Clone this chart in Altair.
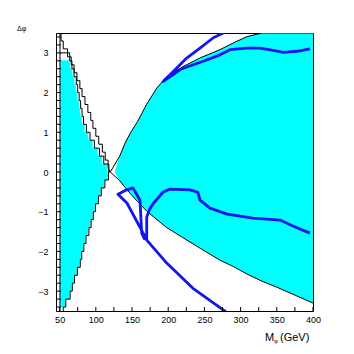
import altair as alt
import pandas as pd

# ---------------- data ----------------
# left cyan region: y-bin centres (bin width 0.2) and right edge in GeV
left_y = [2.7, 2.5, 2.3, 2.1, 1.9, 1.7, 1.5, 1.3, 1.1, 0.9, 0.7, 0.5, 0.3, 0.1,
          -0.1, -0.3, -0.5, -0.7, -0.9, -1.1, -1.3, -1.5, -1.7, -1.9, -2.1, -2.3,
          -2.5, -2.7, -2.9, -3.1, -3.3]
left_x = [64, 67, 70, 72, 74, 76, 78, 80, 84, 89, 95, 102, 108, 115,
          116, 111, 106, 102, 98, 95, 92, 89, 85, 82, 79, 77,
          73, 69, 66, 63, 57]
left_edge = 51.5
half_bin = 0.1

# inner black contour (upper half of left region)
inner_y = [2.9, 2.7, 2.5, 2.3, 2.1, 1.9, 1.7, 1.5, 1.3, 1.1, 0.9, 0.7, 0.5, 0.3, 0.1]
inner_x = [64, 67, 70, 73, 75, 77, 79, 81, 83, 87, 92, 98, 105, 111, 118]

# outer black contour (upper half of left region)
outer_y = [3.4, 3.2, 3.0, 2.8, 2.6, 2.4, 2.2, 2.0, 1.8, 1.6, 1.4, 1.2, 1.0, 0.8, 0.6, 0.4, 0.2]
outer_x = [52, 55, 61, 66, 70, 74, 78, 81, 85, 89, 93, 96, 100, 104, 109, 113, 117]

# black contour, lower half of left region
low_y = [-0.1, -0.3, -0.5, -0.7, -0.9, -1.1, -1.3, -1.5, -1.7, -1.9, -2.1, -2.3,
         -2.5, -2.7, -2.9, -3.1, -3.3, -3.5]
low_x = [117.5, 112.5, 107.5, 103.5, 99.5, 96.5, 93.5, 90.5, 86.5, 83.5, 80.5, 78.5,
         74.5, 70.5, 67.5, 64.5, 58.5, 55]

cross_x, cross_y = 120, 0.0
left_line_x = 50.5

# right cyan region
right_x = [126, 133, 141, 149, 158, 170, 184.5, 198, 220, 245, 271.5, 290, 309, 329.5, 350, 375, 400]
right_up = [0.0, 0.4, 0.75, 1.02, 1.28, 1.70, 2.12, 2.40, 2.65, 2.88, 3.08, 3.25, 3.41, 3.5, 3.5, 3.5, 3.5]
right_lo = [0.0, -0.22, -0.4, -0.57, -0.75, -0.98, -1.2, -1.4, -1.65, -1.93, -2.22, -2.38, -2.57, -2.75, -2.9, -3.1, -3.3]

# blue curves
blue1_x = [281.2, 234.2, 198.3, 170.7, 143, 130.6, 140, 151.4, 161, 163.4, 167, 170.3, 170.3, 174, 179,
           192.8, 202.5, 230, 241, 243.9, 257.7, 281.2, 317.1, 354.4, 372.3, 395.8]
blue1_y = [-3.54, -2.93, -2.30, -1.72, -0.78, -0.56, -0.47, -0.40, -0.71, -1.54, -1.68, -1.70, -1.14, -0.95, -0.80,
           -0.51, -0.43, -0.45, -0.51, -0.71, -0.91, -1.06, -1.16, -1.21, -1.36, -1.54]
blue2_x = [276, 262.3, 243.9, 225.5, 216.3, 202.5, 193, 207, 216.3, 234.7, 248.5, 271.5, 285.3, 308.4,
           326.8, 345.1, 358.9, 377.5, 395.8]
blue2_y = [3.5, 3.38, 3.12, 2.87, 2.70, 2.45, 2.28, 2.45, 2.58, 2.70, 2.79, 2.95, 3.08, 3.12,
           3.12, 3.06, 3.01, 3.04, 3.10]

x_ticks = [50, 75, 100, 125, 150, 175, 200, 225, 250, 275, 300, 325, 350, 375, 400]
x_labels = [50, 100, 150, 200, 250, 300, 350, 400]
y_ticks = [round(-3.4 + 0.2 * i, 1) for i in range(35)]
y_labels = [-3, -2, -1, 0, 1, 2, 3]

# ---------------- tables ----------------
W, H = 257, 278
xs = alt.Scale(domain=[45, 400], nice=False, zero=False)
ys = alt.Scale(domain=[-3.5, 3.5], nice=False, zero=False)

cyan_left = pd.DataFrame({
    "x": [left_edge] * len(left_y), "x2": left_x,
    "y": [v - half_bin for v in left_y], "y2": [v + half_bin for v in left_y]})
cyan_right = pd.DataFrame({"x": right_x, "lo": right_lo, "up": right_up})


def stair(xv, yv):
    pts = []
    for a, b in zip(xv, yv):
        pts.append((a, b + half_bin))
        pts.append((a, b - half_bin))
    return pts


rows = []
c1 = stair(outer_x, outer_y) + [(cross_x, cross_y)] + list(zip(right_x[1:], right_lo[1:]))
c2 = list(reversed(stair(low_x, low_y)))
c2 = c2 + [(cross_x, cross_y)] + list(zip(right_x[1:], right_up[1:]))
c3 = [(left_line_x, inner_y[0] + half_bin)] + stair(inner_x, inner_y) + [(cross_x - 1, 0.0)]
c4 = [(left_line_x, -3.5), (left_line_x, 3.5)]
for gid, c in enumerate([c1, c2, c3, c4]):
    for i, (a, b) in enumerate(c):
        rows.append({"g": gid, "i": i, "x": a, "y": b})
black = pd.DataFrame(rows)

brows = []
for gid, (bx, by) in enumerate([(blue1_x, blue1_y), (blue2_x, blue2_y)]):
    for i, (a, b) in enumerate(zip(bx, by)):
        brows.append({"g": gid, "i": i, "x": a, "y": b})
blue = pd.DataFrame(brows)

# ---------------- layers ----------------
axis_x = alt.Axis(values=x_labels, ticks=False, domain=False, grid=False, title=None,
                  labelFont="Liberation Sans", labelFontSize=9, labelPadding=4,
                  labelColor="black", format="d", labelOverlap=False, labelFlush=False)
axis_y = alt.Axis(values=y_labels, ticks=False, domain=False, grid=False, title=None,
                  labelFont="Liberation Sans", labelFontSize=9, labelPadding=8,
                  labelColor="black", format="d", labelOverlap=False, labelFlush=False)


def X(f):
    return alt.X(f, scale=xs, axis=axis_x)


def Y(f):
    return alt.Y(f, scale=ys, axis=axis_y)


base_left = alt.Chart(cyan_left).mark_rect(color="#00ffff", stroke="#00ffff",
                                           strokeWidth=0.8, clip=True).encode(
    x=X("x:Q"), x2="x2:Q", y=Y("y:Q"), y2="y2:Q")

area_right = alt.Chart(cyan_right).mark_area(color="#00ffff", clip=True).encode(
    x=X("x:Q"), y=Y("lo:Q"), y2="up:Q")

black_lines = alt.Chart(black).mark_line(color="black", strokeWidth=1, clip=True).encode(
    x=X("x:Q"), y=Y("y:Q"), detail="g:N", order="i:Q")

blue_lines = alt.Chart(blue).mark_line(color="#1414f0", strokeWidth=2.8, clip=True,
                                       strokeJoin="round").encode(
    x=X("x:Q"), y=Y("y:Q"), detail="g:N", order="i:Q")

xt = alt.Chart(pd.DataFrame({"t": x_ticks})).mark_rule(color="black", strokeWidth=1).encode(
    x=X("t:Q"), y=alt.value(H), y2=alt.value(H - 4))
yt = alt.Chart(pd.DataFrame({"t": y_ticks})).mark_rule(color="black", strokeWidth=1).encode(
    y=Y("t:Q"), x=alt.value(0), x2=alt.value(5))

title_df = pd.DataFrame({"a": [0]})
t_m = alt.Chart(title_df).mark_text(text="M", font="Liberation Sans", fontSize=11,
                                    align="left", baseline="alphabetic").encode(
    x=alt.value(209), y=alt.value(308))
t_phi = alt.Chart(title_df).mark_text(text="φ", font="Liberation Sans", fontSize=6,
                                      align="left", baseline="alphabetic").encode(
    x=alt.value(218), y=alt.value(310))
t_gev = alt.Chart(title_df).mark_text(text="(GeV)", font="Liberation Sans", fontSize=11,
                                      align="left", baseline="alphabetic").encode(
    x=alt.value(224), y=alt.value(308))
t_y = alt.Chart(title_df).mark_text(text="Δφ", font="Liberation Sans", fontSize=7,
                                    align="left", baseline="alphabetic").encode(
    x=alt.value(-39), y=alt.value(-2))

chart = alt.layer(base_left, area_right, black_lines, blue_lines, xt, yt,
                  t_m, t_phi, t_gev, t_y).properties(
    width=W, height=H, autosize=alt.AutoSizeParams(type="none"),
    padding={"left": 48, "top": 25, "right": 30, "bottom": 40},
    background="white"
).configure_view(stroke="black", strokeWidth=1
).configure_axis(labelOverlap=False, labelFlush=False)

chart.save("out.html", embed_options={"renderer": "svg", "actions": False})
